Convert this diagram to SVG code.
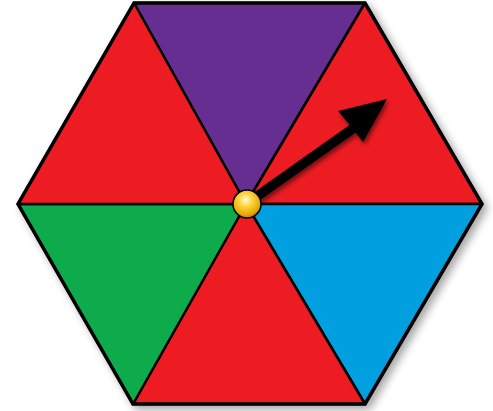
<svg xmlns="http://www.w3.org/2000/svg" width="493" height="411" viewBox="0 0 493 411">
<defs>
<filter id="sh" x="-10%" y="-10%" width="130%" height="130%">
<feGaussianBlur in="SourceAlpha" stdDeviation="4"/>
<feOffset dx="4" dy="4"/>
<feComponentTransfer><feFuncA type="linear" slope="0.35"/></feComponentTransfer>
<feMerge><feMergeNode/><feMergeNode in="SourceGraphic"/></feMerge>
</filter>
<filter id="ash" x="-20%" y="-20%" width="150%" height="150%">
<feGaussianBlur in="SourceAlpha" stdDeviation="2"/>
<feOffset dx="2" dy="3"/>
<feComponentTransfer><feFuncA type="linear" slope="0.5"/></feComponentTransfer>
<feMerge><feMergeNode/><feMergeNode in="SourceGraphic"/></feMerge>
</filter>
<radialGradient id="gold" cx="0.45" cy="0.35" r="0.7">
<stop offset="0" stop-color="#fffbe0"/>
<stop offset="0.3" stop-color="#ffd94a"/>
<stop offset="0.75" stop-color="#e8a800"/>
<stop offset="1" stop-color="#b07800"/>
</radialGradient>
<style>
.sec{stroke:#000;stroke-width:2.5;stroke-linejoin:round}
.red{fill:#ec1c24}
</style>
</defs>
<g id="hexagon" filter="url(#sh)">
<g id="top"><polygon class="sec" fill="#662d91" points="134,3 365,3 246,204"/></g>
<g id="top-right"><polygon class="sec red" points="365,3 482,204 246,204"/></g>
<g id="bottom-right"><polygon class="sec" fill="#00a0e0" points="482,204 365,404 246,204"/></g>
<g id="bottom"><polygon class="sec red" points="365,404 133,404 246,204"/></g>
<g id="bottom-left"><polygon class="sec" fill="#0dab4b" points="133,404 18,204 246,204"/></g>
<g id="top-left"><polygon class="sec red" points="18,204 134,3 246,204"/></g>
<polygon fill="none" stroke="#000" stroke-width="3.5" stroke-linejoin="miter" points="134,3 365,3 482,204 365,404 133,404 18,204"/>
</g>
<g id="connectors">
<g id="pointer" filter="url(#ash)">
<line x1="246" y1="204" x2="355" y2="127" stroke="#000" stroke-width="9.5"/>
<polygon fill="#000" points="387,99 338,111 349,124 363,142"/>
</g>
</g>
<g id="knob">
<circle cx="247" cy="204" r="14" fill="url(#gold)" stroke="#000" stroke-width="1.5"/>
</g>
</svg>
